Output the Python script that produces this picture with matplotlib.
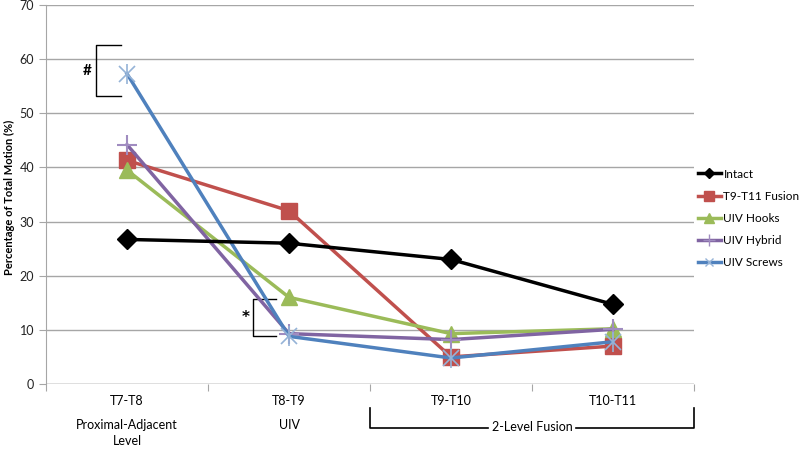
import matplotlib
matplotlib.use("Agg")
import matplotlib.pyplot as plt
from matplotlib.lines import Line2D

plt.rcParams['font.family'] = ['Lato', 'DejaVu Sans']

categories = ["T7-T8", "T8-T9", "T9-T10", "T10-T11"]
sublabels = ["Proximal-Adjacent\nLevel", "UIV", "", ""]
intact = [26.7, 26.0, 23.0, 14.7]
fusion = [41.3, 32.0, 5.0, 7.0]
hooks = [39.5, 16.0, 9.3, 10.2]
hybrid = [44.2, 9.3, 8.2, 10.1]
screws = [57.3, 8.8, 4.8, 7.8]

fig = plt.figure(figsize=(8, 4.49), dpi=100)
ax = fig.add_axes([0.0575, 0.1448, 0.81, 0.8441])
x = list(range(len(categories)))

ax.plot(x, intact, color='black', lw=2.5, marker='D', ms=10, mfc='black', mec='black', zorder=5)
ax.plot(x, fusion, color='#C0504D', lw=2.5, marker='s', ms=12, mfc='#C0504D', mec='#C0504D', zorder=4)
ax.plot(x, hooks, color='#9BBB59', lw=2.5, marker='^', ms=12, mfc='#9BBB59', mec='#9BBB59', zorder=4)
ax.plot(x, hybrid, color='#8064A2', lw=2.5, marker='+', ms=14, mew=1.5, mec='#A08CC0', zorder=4)
ax.plot(x, screws, color='#4F81BD', lw=2.5, marker='x', ms=11, mew=1.2, mec='#95B3D7', zorder=4)
ax.plot(x, screws, ls='none', marker='|', ms=14, mew=1.2, mec='#95B3D7', zorder=4)

ax.set_xlim(-0.5, 3.5)
ax.set_ylim(0, 70)
ax.set_yticks(range(0, 71, 10))
ax.yaxis.grid(True, color='#A6A6A6', lw=1)
ax.set_axisbelow(True)
for s in ['top', 'right', 'bottom']:
    ax.spines[s].set_visible(False)
ax.spines['left'].set_color('#A6A6A6')
ax.axhline(0, color='#A6A6A6', lw=1, zorder=1)
ax.set_xticks([-0.5, 0.5, 1.5, 2.5, 3.5])
ax.set_xticklabels([])
ax.tick_params(axis='x', length=5, color='#A6A6A6', direction='out')
ax.tick_params(axis='y', length=5, color='#A6A6A6', labelsize=9, labelcolor='#222222')
fig.text(9 / 800, 1 - 197 / 449, "Percentage of Total Motion (%)", rotation=90,
         ha='center', va='center', fontsize=8, fontweight='bold')

trans = ax.get_xaxis_transform()
for i, (c, s) in enumerate(zip(categories, sublabels)):
    ax.text(i, -0.045, c, transform=trans, ha='center', va='center', fontsize=9)
    if s:
        ax.text(i, -0.092, s, transform=trans, ha='center', va='top', fontsize=9, linespacing=1.45)

# 2-Level Fusion bracket
ax.plot([1.5, 1.5, 2.23], [-0.063, -0.116, -0.116], transform=trans, color='black', lw=1.2, clip_on=False)
ax.plot([2.77, 3.5, 3.5], [-0.116, -0.116, -0.063], transform=trans, color='black', lw=1.2, clip_on=False)
ax.text(2.5, -0.113, "2-Level Fusion", transform=trans, ha='center', va='center', fontsize=9)

# Significance brackets
ax.plot([-0.04, -0.19, -0.19, -0.04], [62.6, 62.6, 53.2, 53.2], color='black', lw=1)
ax.text(-0.245, 57.8, "#", ha='center', va='center', fontsize=11, fontweight='bold')
ax.plot([0.92, 0.778, 0.778, 0.92], [15.7, 15.7, 8.9, 8.9], color='black', lw=1)
ax.text(0.735, 12.2, "*", ha='center', va='center', fontsize=11, fontweight='bold',
        family='DejaVu Sans')

handles = [
    Line2D([], [], color='black', lw=2.5, marker='D', ms=5),
    Line2D([], [], color='#C0504D', lw=2.5, marker='s', ms=7),
    Line2D([], [], color='#9BBB59', lw=2.5, marker='^', ms=7),
    Line2D([], [], color='#8064A2', lw=2.5, marker='+', ms=8, mec='#A08CC0'),
    Line2D([], [], color='#4F81BD', lw=2.5, marker='x', ms=6, mec='#95B3D7'),
]
labels = ["Intact", "T9-T11 Fusion", "UIV Hooks", "UIV Hybrid", "UIV Screws"]
fig.legend(handles, labels, loc='upper left', bbox_to_anchor=(0.866, 0.635), frameon=False,
           fontsize=8.5, handlelength=2.0, handletextpad=0.2, labelspacing=0.95, borderaxespad=0)

fig.savefig("out.png", dpi=100)
